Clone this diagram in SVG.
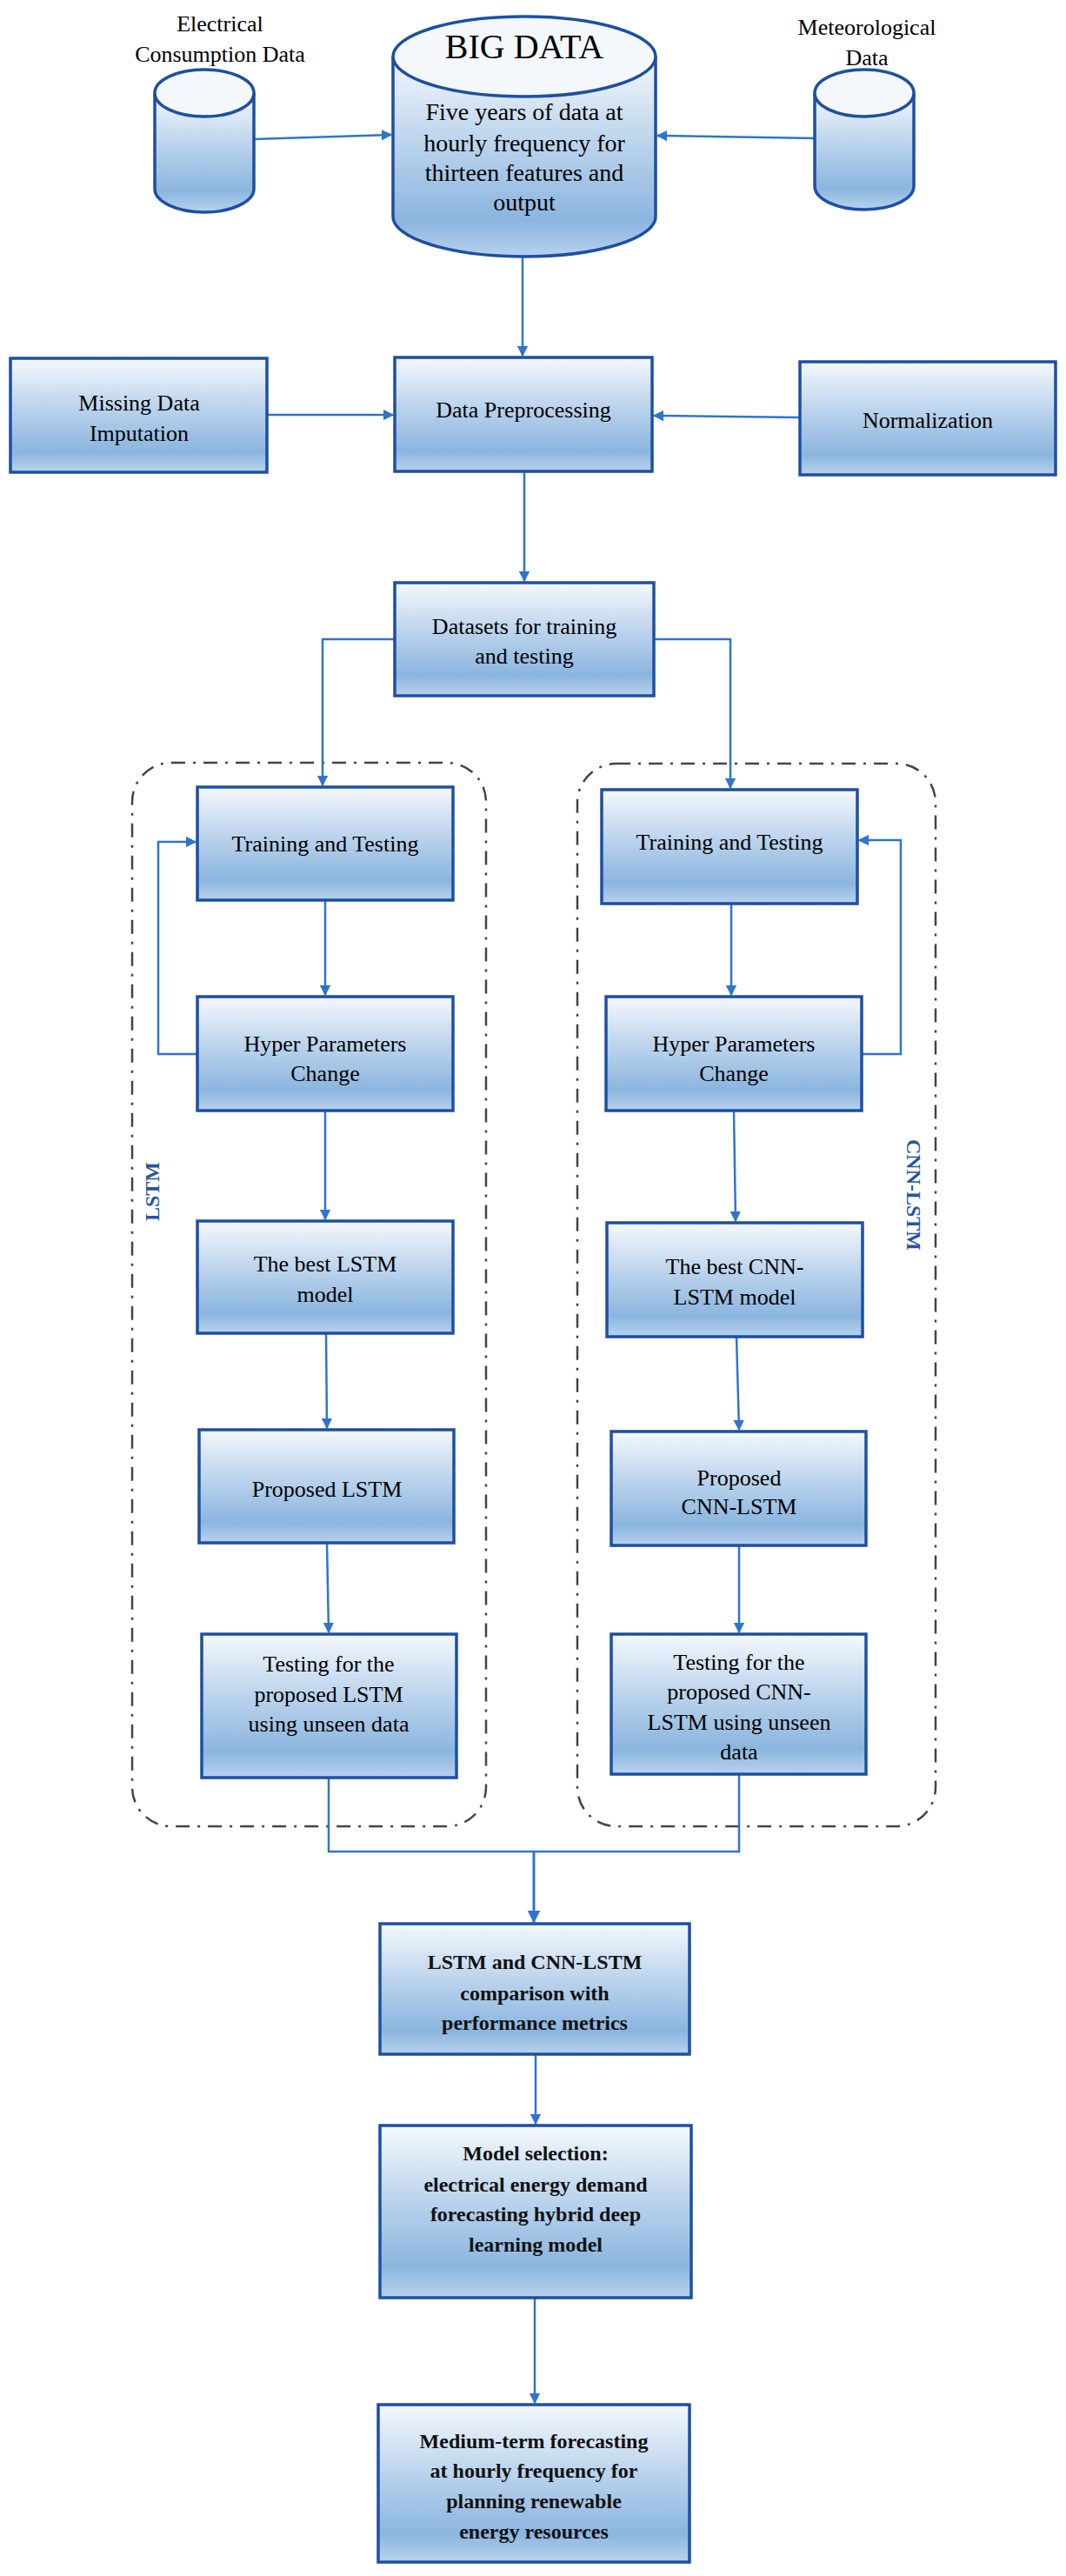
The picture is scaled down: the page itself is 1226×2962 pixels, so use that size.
<svg xmlns="http://www.w3.org/2000/svg" width="1226" height="2962" viewBox="0 0 1226 2962">
<defs>
<linearGradient id="g" x1="0" y1="0" x2="0" y2="1">
<stop offset="0" stop-color="#f4f8fc"/>
<stop offset="0.45" stop-color="#b9d2ec"/>
<stop offset="0.82" stop-color="#8bb5df"/>
<stop offset="1" stop-color="#b8d2ee"/>
</linearGradient>
<marker id="a" viewBox="0 0 10 10" refX="9" refY="5" markerWidth="5" markerHeight="5" orient="auto" markerUnits="strokeWidth">
<path d="M0,0 L10,5 L0,10 z" fill="#2f74d0"/>
</marker>
</defs>
<style>
.n{fill:url(#g);stroke:#1d4fa3;stroke-width:3.5}
.c{fill:none;stroke:#2f74d0;stroke-width:2.5}
.t{font-family:"Liberation Serif",serif;font-size:26px;fill:#000;text-anchor:middle}
.b{font-family:"Liberation Serif",serif;font-size:24px;font-weight:bold;fill:#111;text-anchor:middle}
.box{fill:none;stroke:#444;stroke-width:2.5;stroke-dasharray:16 9 3 9}
.lab{font-family:"Liberation Serif",serif;font-size:24px;font-weight:bold;fill:#2a54a0;text-anchor:middle}
</style>
<rect width="1226" height="2962" fill="#fff"/>

<g id="containers">
<rect class="box" x="152" y="877" width="407" height="1223" rx="45"/>
<rect class="box" x="664" y="878" width="412" height="1222" rx="45"/>
<text class="lab" transform="translate(183,1370) rotate(-90)">LSTM</text>
<text class="lab" transform="translate(1043,1374) rotate(90)">CNN-LSTM</text>
</g>

<g id="connectors">
<path class="c" d="M292,160 L450,155" marker-end="url(#a)"/>
<path class="c" d="M937,159 L756,156" marker-end="url(#a)"/>
<path class="c" d="M601,296 L601,409" marker-end="url(#a)"/>
<path class="c" d="M307,477 L452,477" marker-end="url(#a)"/>
<path class="c" d="M920,480 L752,478" marker-end="url(#a)"/>
<path class="c" d="M603,542 L603,668" marker-end="url(#a)"/>
<path class="c" d="M454,735 L371,735 L371,903" marker-end="url(#a)"/>
<path class="c" d="M752,735 L840,735 L840,906" marker-end="url(#a)"/>
<path class="c" d="M374,1035 L374,1144" marker-end="url(#a)"/>
<path class="c" d="M227,1212 L182,1212 L182,968 L225,968" marker-end="url(#a)"/>
<path class="c" d="M374,1277 L374,1402" marker-end="url(#a)"/>
<path class="c" d="M375,1533 L376,1642" marker-end="url(#a)"/>
<path class="c" d="M376,1774 L378,1877" marker-end="url(#a)"/>
<path class="c" d="M841,1039 L841,1144" marker-end="url(#a)"/>
<path class="c" d="M991,1212 L1036,1212 L1036,966 L988,966" marker-end="url(#a)"/>
<path class="c" d="M844,1277 L846,1404" marker-end="url(#a)"/>
<path class="c" d="M847,1537 L850,1644" marker-end="url(#a)"/>
<path class="c" d="M850,1777 L850,1877" marker-end="url(#a)"/>
<path class="c" d="M378,2044 L378,2129 L850,2129 L850,2040"/>
<path class="c" d="M614,2129 L614,2210" marker-end="url(#a)" style="stroke-width:3"/>
<path class="c" d="M616,2362 L616,2442" marker-end="url(#a)"/>
<path class="c" d="M615,2642 L615,2763" marker-end="url(#a)"/>
</g>

<g id="elec">
<text class="t" x="253" y="36">Electrical</text>
<text class="t" x="253" y="71">Consumption  Data</text>
<path class="n" d="M178,107 L178,217 A57,27 0 0 0 292,217 L292,107"/>
<ellipse class="n" cx="235" cy="107" rx="57" ry="27" style="fill:#f4f8fc"/>
</g>

<g id="bigdata">
<path class="n" d="M452,65 L452,249 A151,46 0 0 0 754,249 L754,65"/>
<ellipse class="n" cx="603" cy="65" rx="151" ry="46" style="fill:#f4f8fc"/>
<text class="t" x="603" y="67" style="font-size:40px">BIG DATA</text>
<text class="t" x="603" y="138" style="font-size:28px">Five years of data at</text>
<text class="t" x="603" y="174" style="font-size:28px">hourly frequency for</text>
<text class="t" x="603" y="208" style="font-size:28px">thirteen features and</text>
<text class="t" x="603" y="242" style="font-size:28px">output</text>
</g>

<g id="meteo">
<text class="t" x="997" y="40">Meteorological</text>
<text class="t" x="997" y="75">Data</text>
<path class="n" d="M937,107 L937,214 A57,27 0 0 0 1051,214 L1051,107"/>
<ellipse class="n" cx="994" cy="107" rx="57" ry="27" style="fill:#f4f8fc"/>
</g>

<g id="missing">
<rect class="n" x="12" y="412" width="295" height="131"/>
<text class="t" x="160" y="472">Missing Data</text>
<text class="t" x="160" y="507">Imputation</text>
</g>
<g id="preproc">
<rect class="n" x="454" y="411" width="296" height="131"/>
<text class="t" x="602" y="480">Data Preprocessing</text>
</g>
<g id="norm">
<rect class="n" x="920" y="416" width="294" height="130"/>
<text class="t" x="1067" y="492">Normalization</text>
</g>
<g id="datasets">
<rect class="n" x="454" y="670" width="298" height="130"/>
<text class="t" x="603" y="729">Datasets for training</text>
<text class="t" x="603" y="763">and testing</text>
</g>

<g id="trainL">
<rect class="n" x="227" y="905" width="294" height="130"/>
<text class="t" x="374" y="979">Training and Testing</text>
</g>
<g id="hyperL">
<rect class="n" x="227" y="1146" width="294" height="131"/>
<text class="t" x="374" y="1209">Hyper Parameters</text>
<text class="t" x="374" y="1243">Change</text>
</g>
<g id="bestL">
<rect class="n" x="227" y="1404" width="294" height="129"/>
<text class="t" x="374" y="1462">The best LSTM</text>
<text class="t" x="374" y="1497">model</text>
</g>
<g id="propL">
<rect class="n" x="229" y="1644" width="293" height="130"/>
<text class="t" x="376" y="1721">Proposed LSTM</text>
</g>
<g id="testL">
<rect class="n" x="232" y="1879" width="293" height="165"/>
<text class="t" x="378" y="1922">Testing for the</text>
<text class="t" x="378" y="1957">proposed LSTM</text>
<text class="t" x="378" y="1991">using unseen data</text>
</g>

<g id="trainR">
<rect class="n" x="692" y="908" width="294" height="131"/>
<text class="t" x="839" y="977">Training and Testing</text>
</g>
<g id="hyperR">
<rect class="n" x="697" y="1146" width="294" height="131"/>
<text class="t" x="844" y="1209">Hyper Parameters</text>
<text class="t" x="844" y="1243">Change</text>
</g>
<g id="bestR">
<rect class="n" x="698" y="1406" width="294" height="131"/>
<text class="t" x="845" y="1465">The best CNN-</text>
<text class="t" x="845" y="1500">LSTM model</text>
</g>
<g id="propR">
<rect class="n" x="703" y="1646" width="293" height="131"/>
<text class="t" x="850" y="1708">Proposed</text>
<text class="t" x="850" y="1741">CNN-LSTM</text>
</g>
<g id="testR">
<rect class="n" x="703" y="1879" width="293" height="161"/>
<text class="t" x="850" y="1920">Testing for the</text>
<text class="t" x="850" y="1954">proposed CNN-</text>
<text class="t" x="850" y="1989">LSTM using unseen</text>
<text class="t" x="850" y="2023">data</text>
</g>

<g id="compare">
<rect class="n" x="437" y="2212" width="356" height="150"/>
<text class="b" x="615" y="2264">LSTM and CNN-LSTM</text>
<text class="b" x="615" y="2300">comparison with</text>
<text class="b" x="615" y="2334">performance metrics</text>
</g>
<g id="select">
<rect class="n" x="437" y="2444" width="358" height="198"/>
<text class="b" x="616" y="2484">Model selection:</text>
<text class="b" x="616" y="2520">electrical energy demand</text>
<text class="b" x="616" y="2554">forecasting hybrid deep</text>
<text class="b" x="616" y="2589">learning model</text>
</g>
<g id="medium">
<rect class="n" x="435" y="2765" width="358" height="181"/>
<text class="b" x="614" y="2815">Medium-term forecasting</text>
<text class="b" x="614" y="2849">at hourly frequency for</text>
<text class="b" x="614" y="2884">planning renewable</text>
<text class="b" x="614" y="2919">energy resources</text>
</g>
</svg>
